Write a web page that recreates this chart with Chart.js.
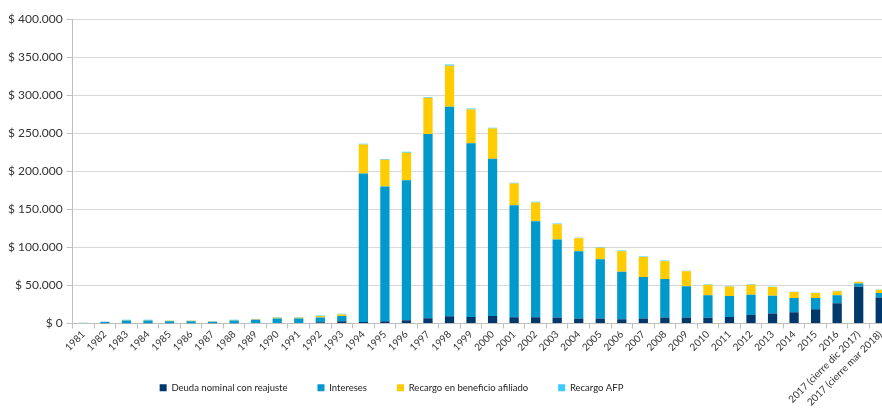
<!DOCTYPE html>
<html>
<head>
<meta charset="utf-8">
<script src="https://cdn.jsdelivr.net/npm/chart.js@4"></script>
<style>
html,body{margin:0;padding:0;background:#fff;overflow:hidden;}
#wrap{width:882px;height:417px;position:relative;overflow:hidden;}
</style>
</head>
<body>
<div id="wrap"><canvas id="c" width="891" height="417"></canvas></div>
<script>
const categories = ["1981","1982","1983","1984","1985","1986","1987","1988","1989","1990","1991","1992","1993","1994","1995","1996","1997","1998","1999","2000","2001","2002","2003","2004","2005","2006","2007","2008","2009","2010","2011","2012","2013","2014","2015","2016","2017 (cierre dic 2017)","2017 (cierre mar 2018)"];
const deudaNominal = [0,200,300,300,200,200,200,300,500,600,800,1500,3000,2000,3000,4300,7000,9600,8700,10000,8300,8300,8000,6500,6500,5700,6500,7800,7800,7400,8700,11300,13000,14800,18700,26500,48400,34000];
const intereses = [800,2000,3500,3500,2900,2900,2200,3500,4300,6000,5800,6500,7000,195000,177000,184000,242000,275000,228000,206500,147000,126000,102500,88500,78000,62300,54500,50600,41000,29600,27500,26600,23600,18700,14800,10500,4300,6000];
const recargoAfiliado = [0,100,500,500,400,400,300,500,700,1000,1000,1800,1900,38000,35000,36000,47500,54000,44500,39500,28500,24500,20000,17000,15000,27000,26200,23500,19800,13800,12400,12900,11200,7800,6500,5500,2000,4300];
const recargoAFP = [200,100,500,500,400,400,300,500,500,700,700,700,800,1200,1200,1200,1200,1500,1300,1300,1200,1000,1000,800,700,800,800,800,700,600,600,600,600,500,500,500,300,500];
const yTicks = [0,50000,100000,150000,200000,250000,300000,350000,400000];

const FONT = "Lato, 'Open Sans', sans-serif";
function fmt(v){ return "$ " + String(v).replace(/\B(?=(\d{3})+(?!\d))/g, "."); }

const legendPlace = {
  id: 'legendPlace',
  afterLayout(chart) {
    const l = chart.legend;
    if (!l) return;
    const dx = -56;
    l.left += dx; l.right += dx;
    const h = l.height;
    l.top = 353; l.bottom = 353 + h;
  }
};

new Chart(document.getElementById('c'), {
  type: 'bar',
  data: {
    labels: categories,
    datasets: [
      {label: 'Deuda nominal con reajuste', data: deudaNominal, backgroundColor: '#00386C'},
      {label: 'Intereses', data: intereses, backgroundColor: '#0099CC'},
      {label: 'Recargo en beneficio afiliado', data: recargoAfiliado, backgroundColor: '#FFCC00'},
      {label: 'Recargo AFP', data: recargoAFP, backgroundColor: '#3CCDFA'}
    ]
  },
  plugins: [legendPlace],
  options: {
    responsive: false,
    animation: false,
    devicePixelRatio: 1,
    datasets: {bar: {categoryPercentage: 1, barPercentage: 0.43, borderWidth: 0}},
    layout: {padding: {left: 4, right: 0, top: 19, bottom: 4}},
    plugins: {
      tooltip: {enabled: false},
      legend: {
        position: 'bottom',
        labels: {
          boxWidth: 7, boxHeight: 7, padding: 30,
          color: '#222', font: {family: FONT, size: 9.5}
        }
      }
    },
    scales: {
      x: {
        stacked: true,
        afterFit: (s) => { s.height = 40; s._computeLabelArea = () => undefined; },
        grid: {display: true, drawOnChartArea: false, offset: true, color: '#BFBFBF', tickLength: 5},
        border: {color: '#BFBFBF'},
        ticks: {maxRotation: 45, minRotation: 45, autoSkip: false, color: '#333', padding: 0,
          font: {family: FONT, size: 10}}
      },
      y: {
        stacked: true,
        min: 0, max: 400000,
        afterBuildTicks: (s) => { s.ticks = yTicks.map(v => ({value: v})); },
        grid: {color: '#D9D9D9', tickLength: 6, tickColor: '#BFBFBF'},
        border: {color: '#BFBFBF'},
        ticks: {color: '#333', padding: 4, font: {family: FONT, size: 12}, callback: (v) => fmt(v)}
      }
    }
  }
});
</script>
</body>
</html>
